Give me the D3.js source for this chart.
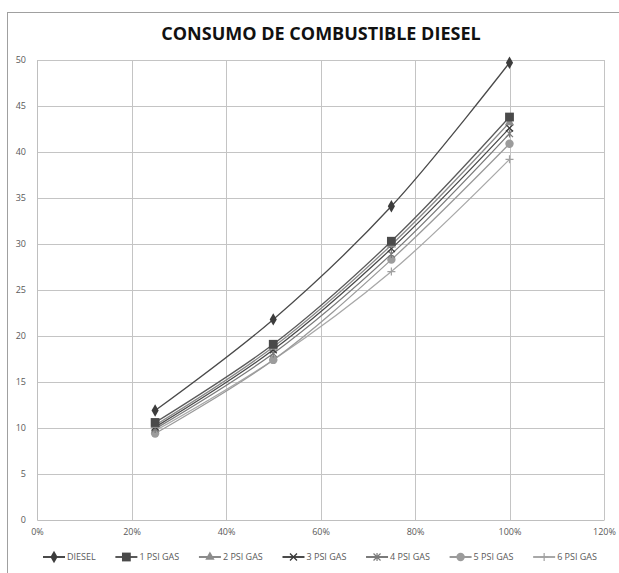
<!DOCTYPE html>
<meta charset="utf-8">
<style>
body { margin: 0; background: #fff; }
text { font-family: "Open Sans", sans-serif; }
.grid line { stroke: #c4c4c4; stroke-width: 1px; }
.axis text { fill: #595959; font-size: 9px; }
.axis path, .axis line { stroke: #bfbfbf; }
.line { fill: none; stroke-width: 1.3px; }
</style>
<body>
<script src="https://cdn.jsdelivr.net/npm/d3@7/dist/d3.min.js"></script>
<script>

// data
var cargas = [0.25, 0.50, 0.75, 1.00];
var seriesNames = ["DIESEL", "1 PSI GAS", "2 PSI GAS", "3 PSI GAS", "4 PSI GAS", "5 PSI GAS", "6 PSI GAS"];
var diesel  = [11.9, 21.8, 34.1, 49.7];
var psi1    = [10.6, 19.1, 30.3, 43.8];
var psi2    = [10.3, 18.8, 29.9, 43.2];
var psi3    = [10.1, 18.5, 29.5, 42.6];
var psi4    = [9.9, 18.1, 28.9, 42.0];
var psi5    = [9.4, 17.4, 28.3, 40.9];
var psi6    = [9.7, 17.4, 27.0, 39.2];
var xTicks = [0, 0.2, 0.4, 0.6, 0.8, 1.0, 1.2];
var yTicks = [0, 5, 10, 15, 20, 25, 30, 35, 40, 45, 50];

var allValues = [diesel, psi1, psi2, psi3, psi4, psi5, psi6];
var lineColors = ["#4a4a4a", "#5a5a5a", "#8a8a8a", "#4a4a4a", "#7a7a7a", "#9a9a9a", "#a8a8a8"];
var markerColors = ["#3c3c3c", "#4a4a4a", "#8c8c8c", "#3a3a3a", "#7a7a7a", "#9c9c9c", "#a0a0a0"];
var symbols = ["diamond", "square", "triangle", "x", "asterisk", "circle", "plus"];

var W = 619, H = 573;
var margin = {top: 60, left: 37, right: 15, bottom: 53};
var width = W - margin.left - margin.right,
    height = H - margin.top - margin.bottom;

var svg = d3.select("body").append("svg")
    .attr("width", W)
    .attr("height", H);

// chart frame
svg.append("rect")
    .attr("x", 7.5).attr("y", 12.5)
    .attr("width", W + 10).attr("height", H + 10)
    .attr("fill", "none")
    .attr("stroke", "#a0a0a0");

svg.append("text")
    .attr("x", 321).attr("y", 40)
    .attr("text-anchor", "middle")
    .style("font-weight", "bold")
    .style("font-size", "18px")
    .style("fill", "#111")
    .text("CONSUMO DE COMBUSTIBLE DIESEL");

var g = svg.append("g")
    .attr("transform", "translate(" + margin.left + "," + margin.top + ")");

var x = d3.scaleLinear().domain([0, 1.2]).range([0, width]);
var y = d3.scaleLinear().domain([0, 50]).range([height, 0]);

// gridlines
g.append("g").attr("class", "grid")
  .selectAll("line").data(yTicks.slice(1)).enter().append("line")
    .attr("x1", 0).attr("x2", width)
    .attr("y1", function(d) { return Math.round(y(d)) + 0.5; })
    .attr("y2", function(d) { return Math.round(y(d)) + 0.5; });

g.append("g").attr("class", "grid")
  .selectAll("line").data(xTicks.slice(1)).enter().append("line")
    .attr("y1", 0).attr("y2", height)
    .attr("x1", function(d) { return Math.round(x(d)) + 0.5; })
    .attr("x2", function(d) { return Math.round(x(d)) + 0.5; });

// axes
g.append("g")
    .attr("class", "axis")
    .attr("transform", "translate(0," + height + ")")
    .call(d3.axisBottom(x).tickValues(xTicks).tickFormat(d3.format(".0%")).tickSize(0).tickPadding(9))
    .call(function(a) { a.select(".domain").attr("stroke", "#a0a0a0"); });

g.append("g")
    .attr("class", "axis")
    .call(d3.axisLeft(y).tickValues(yTicks).tickSize(0).tickPadding(11))
    .call(function(a) { a.select(".domain").attr("stroke", "#a0a0a0"); });

// smoothed lines like the spreadsheet
var line = d3.line()
    .curve(d3.curveCatmullRom.alpha(0.5))
    .x(function(d, i) { return x(cargas[i]); })
    .y(function(d) { return y(d); });

function drawMarker(sel, type, color) {
  var s = 3.6;
  if (type === "diamond") {
    sel.append("path").attr("d", d3.symbol(d3.symbolDiamond, 44)()).attr("fill", color);
  } else if (type === "square") {
    sel.append("rect").attr("x", -s - 0.8).attr("y", -s - 0.8).attr("width", 2 * s + 1.6).attr("height", 2 * s + 1.6).attr("fill", color);
  } else if (type === "triangle") {
    sel.append("path").attr("d", d3.symbol(d3.symbolTriangle, 38)()).attr("fill", color);
  } else if (type === "circle") {
    sel.append("circle").attr("r", 4.2).attr("fill", color);
  } else if (type === "x") {
    sel.append("path").attr("d", "M-3.5,-3.5L3.5,3.5M-3.5,3.5L3.5,-3.5").attr("stroke", color).attr("stroke-width", 1.3);
  } else if (type === "asterisk") {
    sel.append("path").attr("d", "M-3.5,-3.5L3.5,3.5M-3.5,3.5L3.5,-3.5M0,-4L0,4").attr("stroke", color).attr("stroke-width", 1.2);
  } else if (type === "plus") {
    sel.append("path").attr("d", "M-4,0L4,0M0,-4L0,4").attr("stroke", color).attr("stroke-width", 1.2);
  }
}

// draw lower series first so diesel and 1 psi stay on top
for (var k = allValues.length - 1; k >= 0; k--) {
  g.append("path")
      .attr("class", "line")
      .attr("stroke", lineColors[k])
      .attr("d", line(allValues[k]));
}
for (var k = allValues.length - 1; k >= 0; k--) {
  allValues[k].forEach(function(v, i) {
    var m = g.append("g").attr("transform", "translate(" + x(cargas[i]) + "," + y(v) + ")");
    drawMarker(m, symbols[k], markerColors[k]);
  });
}

// legend, spread from x=43 to x=597
var legend = svg.append("g").attr("transform", "translate(0,557)");
var items = seriesNames.map(function(name, k) {
  var item = legend.append("g");
  item.append("line")
      .attr("x1", 0).attr("x2", 22).attr("y1", 0).attr("y2", 0)
      .attr("stroke", lineColors[k]).attr("stroke-width", 2);
  var m = item.append("g").attr("transform", "translate(11,0)");
  drawMarker(m, symbols[k], markerColors[k]);
  var t = item.append("text")
      .attr("x", 24).attr("y", 3.2)
      .style("font-size", "9px")
      .style("fill", "#595959")
      .text(name);
  return {g: item, w: 24 + t.node().getComputedTextLength()};
});
var total = d3.sum(items, function(d) { return d.w; });
var gap = (597 - 43 - total) / (items.length - 1);
var lx = 43;
items.forEach(function(d) {
  d.g.attr("transform", "translate(" + lx + ",0)");
  lx += d.w + gap;
});

</script>
</body>
